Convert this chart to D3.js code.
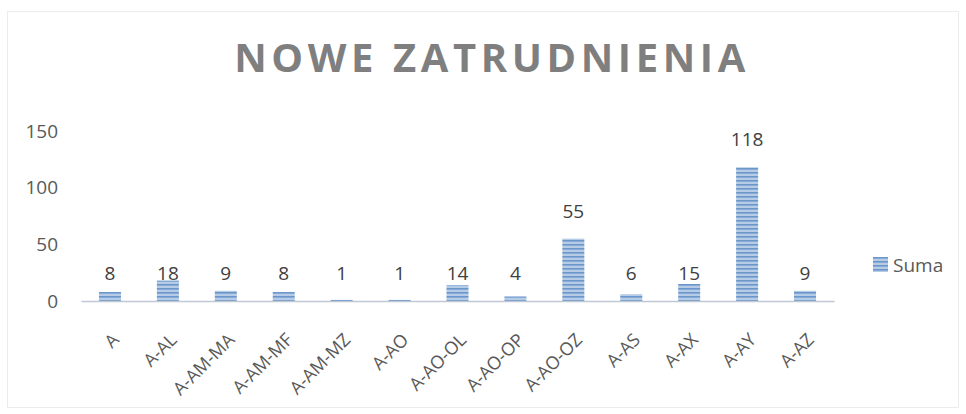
<!DOCTYPE html>
<html>
<head>
<meta charset="utf-8">
<script src="https://cdn.jsdelivr.net/npm/d3@7"></script>
<style>
  body { margin: 0; background: #fff; }
  svg text { font-family: "Open Sans", "Noto Sans", sans-serif; }
</style>
</head>
<body>
<div id="chart-container"></div>
<script>
const categories = ["A", "A-AL", "A-AM-MA", "A-AM-MF", "A-AM-MZ", "A-AO", "A-AO-OL",
  "A-AO-OP", "A-AO-OZ", "A-AS", "A-AX", "A-AY", "A-AZ"];
const sumaValues = [8, 18, 9, 8, 1, 1, 14, 4, 55, 6, 15, 118, 9];
const yTicks = [0, 50, 100, 150];
const seriesName = "Suma";

const width = 966, height = 414;
const margin = { top: 131, right: 138, bottom: 113, left: 81 };

const svg = d3.select("#chart-container").append("svg")
    .attr("width", width)
    .attr("height", height);

// faint outer frame of the chart
svg.append("rect")
    .attr("x", 7.5).attr("y", 11.5)
    .attr("width", 951).attr("height", 396)
    .attr("fill", "none")
    .attr("stroke", "#ececec");

// striped fill for the bars
const defs = svg.append("defs");
const pattern = defs.append("pattern")
    .attr("id", "stripes")
    .attr("patternUnits", "userSpaceOnUse")
    .attr("width", 8).attr("height", 4);
pattern.append("rect").attr("width", 8).attr("height", 4).attr("fill", "#b5cbe6");
pattern.append("rect").attr("width", 8).attr("height", 1.6).attr("fill", "#6a96cc");

const x = d3.scaleBand()
    .domain(categories)
    .range([margin.left, width - margin.right + 6])
    .paddingInner(0.62)
    .paddingOuter(0.31);

const y = d3.scaleLinear()
    .domain([0, 150])
    .range([height - margin.bottom, margin.top]);

// title
svg.append("text")
    .attr("x", 492)
    .attr("y", 72)
    .attr("text-anchor", "middle")
    .attr("font-size", 40)
    .attr("font-weight", "bold")
    .attr("letter-spacing", 4.6)
    .attr("fill", "#7f7f7f")
    .text("NOWE ZATRUDNIENIA");

// y axis labels, no line
const yAxis = svg.append("g")
    .attr("transform", `translate(${margin.left - 23},0)`)
    .call(d3.axisLeft(y).tickValues(yTicks).tickSize(0).tickPadding(0));
yAxis.select(".domain").remove();
yAxis.selectAll("text")
    .attr("font-size", 19)
    .attr("fill", "#595959")
    .attr("font-family", "'Open Sans', sans-serif");

// bars
svg.selectAll(".bar")
    .data(sumaValues)
    .join("rect")
    .attr("class", "bar")
    .attr("x", (d, i) => x(categories[i]))
    .attr("y", d => y(d))
    .attr("width", x.bandwidth())
    .attr("height", d => y(0) - y(d))
    .attr("fill", "url(#stripes)");

// x axis baseline
const xAxis = svg.append("g")
    .attr("transform", `translate(0,${y(0)})`)
    .call(d3.axisBottom(x).tickSize(0).tickPadding(0));
xAxis.select(".domain")
    .attr("stroke", "#c0c8d4")
    .attr("stroke-width", 1.5);
xAxis.selectAll("text")
    .attr("font-size", 18)
    .attr("fill", "#595959")
    .attr("font-family", "'Open Sans', sans-serif")
    .attr("text-anchor", "end")
    .attr("dy", 0)
    .attr("transform", "translate(10,40) rotate(-45)");

// value labels (small bars share one row just above the axis)
svg.selectAll(".value-label")
    .data(sumaValues)
    .join("text")
    .attr("class", "value-label")
    .attr("x", (d, i) => x(categories[i]) + x.bandwidth() / 2)
    .attr("y", d => d < 20 ? y(0) - 21 : y(d) - 21)
    .attr("text-anchor", "middle")
    .attr("font-size", 19)
    .attr("fill", "#404040")
    .text(d => d);

// legend
const legend = svg.append("g").attr("transform", "translate(873,257)");
legend.append("rect")
    .attr("width", 15).attr("height", 15)
    .attr("fill", "url(#stripes)");
legend.append("text")
    .attr("x", 20).attr("y", 15)
    .attr("font-size", 19)
    .attr("fill", "#595959")
    .text(seriesName);
</script>
</body>
</html>
